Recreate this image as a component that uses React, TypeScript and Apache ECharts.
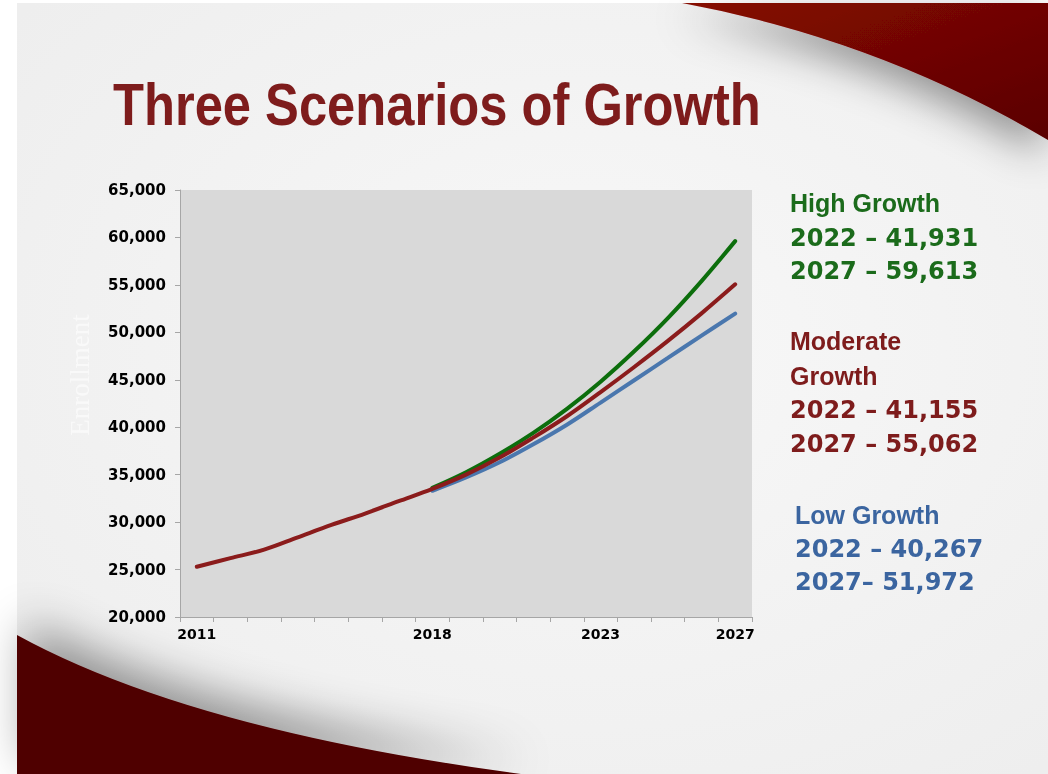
import React, { useEffect, useRef } from "react";
import * as echarts from "echarts";

const years = ["2011","2012","2013","2014","2015","2016","2017","2018","2019","2020","2021","2022","2023","2024","2025","2026","2027"];
const shownYears = ["2011", "2018", "2023", "2027"];
const moderate = [25300, 26200, 27100, 28400, 29700, 30900, 32200, 33500, 35000, 36800, 38900, 41155, 43700, 46350, 49100, 52000, 55062];
const high = [null, null, null, null, null, null, null, 33600, 35250, 37200, 39400, 41931, 44800, 48000, 51500, 55400, 59613];
const low = [null, null, null, null, null, null, null, 33300, 34700, 36300, 38200, 40267, 42600, 44950, 47300, 49650, 51972];

const titleText = "Three Scenarios of Growth";
const highLines = ["High Growth", "2022 – 41,931", "2027 – 59,613"];
const moderateLines = ["Moderate", "Growth", "2022 – 41,155", "2027 – 55,062"];
const lowLines = ["Low Growth", "2022 – 40,267", "2027– 51,972"];

const GREEN = "#1b6b1b";
const RED = "#7e1c1c";
const BLUE = "#3b65a0";

echarts.graphic.registerShape(
  "swooshTR",
  echarts.graphic.extendPath("M682,3 Q880,40 1048,140 L1048,3 Z", {})
);
echarts.graphic.registerShape(
  "swooshBL",
  echarts.graphic.extendPath("M17,635 Q190,730 521,774 L17,774 Z", {})
);

export default function App() {
  const ref = useRef<HTMLDivElement>(null);
  useEffect(() => {
    if (!ref.current) return;
    const chart = echarts.init(ref.current, null, { renderer: "svg" });

    const headFont = "bold 25px 'Liberation Sans', Arial, sans-serif";
    const numFont = "bold 24px 'DejaVu Sans', sans-serif";
    const sideText = (lines: string[], ys: number[], color: string, x: number, headCount: number) =>
      lines.map((t, i) => ({
        type: "text",
        x,
        y: ys[i],
        z: 10,
        style: {
          text: t,
          fill: color,
          font: i < headCount ? headFont : numFont,
          textAlign: "left",
          textVerticalAlign: "middle",
        },
      }));

    const graphics: any[] = [
      { type: "rect", shape: { x: 0, y: 0, width: 1048, height: 774 }, style: { fill: "#ffffff" }, z: -10 },
      {
        type: "rect",
        shape: { x: 17, y: 3, width: 1031, height: 771 },
        style: {
          fill: new echarts.graphic.RadialGradient(0.55, 0.45, 0.7, [
            { offset: 0, color: "#f8f8f8" },
            { offset: 1, color: "#eeeeee" },
          ]),
        },
        z: -9,
      },
      {
        type: "swooshTR",
        z: -8,
        style: {
          fill: new echarts.graphic.LinearGradient(0, 0, 1, 1, [
            { offset: 0, color: "#860a04" },
            { offset: 1, color: "#5a0101" },
          ]),
          shadowBlur: 40,
          shadowColor: "rgba(0,0,0,0.4)",
          shadowOffsetX: -6,
          shadowOffsetY: 14,
        },
      },
      {
        type: "swooshBL",
        z: -8,
        style: {
          fill: "#4f0101",
          shadowBlur: 45,
          shadowColor: "rgba(0,0,0,0.4)",
          shadowOffsetX: 10,
          shadowOffsetY: -14,
        },
      },
      {
        type: "text",
        x: 113,
        y: 104,
        scaleX: 0.845,
        z: 10,
        style: {
          text: titleText,
          fill: RED,
          font: "bold 60px 'Liberation Sans', Arial, sans-serif",
          textAlign: "left",
          textVerticalAlign: "middle",
        },
      },
      {
        type: "text",
        x: 80,
        y: 375,
        rotation: Math.PI / 2,
        z: 10,
        style: {
          text: "Enrollment",
          fill: "rgba(255,255,255,0.6)",
          font: "27px 'Liberation Serif', serif",
          textAlign: "center",
          textVerticalAlign: "middle",
        },
      },
      ...sideText(highLines, [203, 238, 271], GREEN, 790, 1),
      ...sideText(moderateLines, [341, 376, 410, 444], RED, 790, 2),
      ...sideText(lowLines, [515, 549, 582], BLUE, 795, 1),
    ];

    const lineSeries = (name: string, data: any[], color: string, z: number) => ({
      name,
      type: "line",
      data,
      smooth: 0.35,
      showSymbol: false,
      symbol: "none",
      connectNulls: false,
      z,
      lineStyle: { color, width: 4, cap: "round" },
      itemStyle: { color },
    });

    chart.setOption({
      animation: false,
      backgroundColor: "transparent",
      graphic: graphics,
      grid: {
        left: 180,
        right: 296,
        top: 190,
        bottom: 157,
        show: true,
        backgroundColor: "#d9d9d9",
        borderWidth: 0,
      },
      xAxis: {
        type: "category",
        data: years,
        boundaryGap: true,
        axisLine: { show: true, lineStyle: { color: "#a6a6a6", width: 1 } },
        axisTick: { show: true, interval: 0, length: 5, lineStyle: { color: "#a6a6a6" } },
        axisLabel: {
          interval: (idx: number, val: string) => shownYears.indexOf(val) >= 0,
          color: "#000",
          fontFamily: "'DejaVu Sans', sans-serif",
          fontWeight: "bold",
          fontSize: 14,
          margin: 10,
        },
        splitLine: { show: false },
      },
      yAxis: {
        type: "value",
        min: 20000,
        max: 65000,
        interval: 5000,
        axisLine: { show: true, lineStyle: { color: "#a6a6a6", width: 1 } },
        axisTick: { show: true, length: 5, lineStyle: { color: "#a6a6a6" } },
        axisLabel: {
          color: "#000",
          fontFamily: "'DejaVu Sans', sans-serif",
          fontWeight: "bold",
          fontSize: 15,
          margin: 14,
          formatter: (v: number) => v.toLocaleString("en-US"),
        },
        splitLine: { show: false },
      },
      series: [
        lineSeries("Low Growth", low, "#4a77ae", 2),
        lineSeries("High Growth", high, "#0c6e0c", 3),
        lineSeries("Moderate Growth", moderate, "#8b1c1c", 4),
      ],
    });
    return () => chart.dispose();
  }, []);
  return (
    <div
      ref={ref}
      style={{ position: "fixed", left: 0, top: 0, width: 1048, height: 774 }}
    />
  );
}
